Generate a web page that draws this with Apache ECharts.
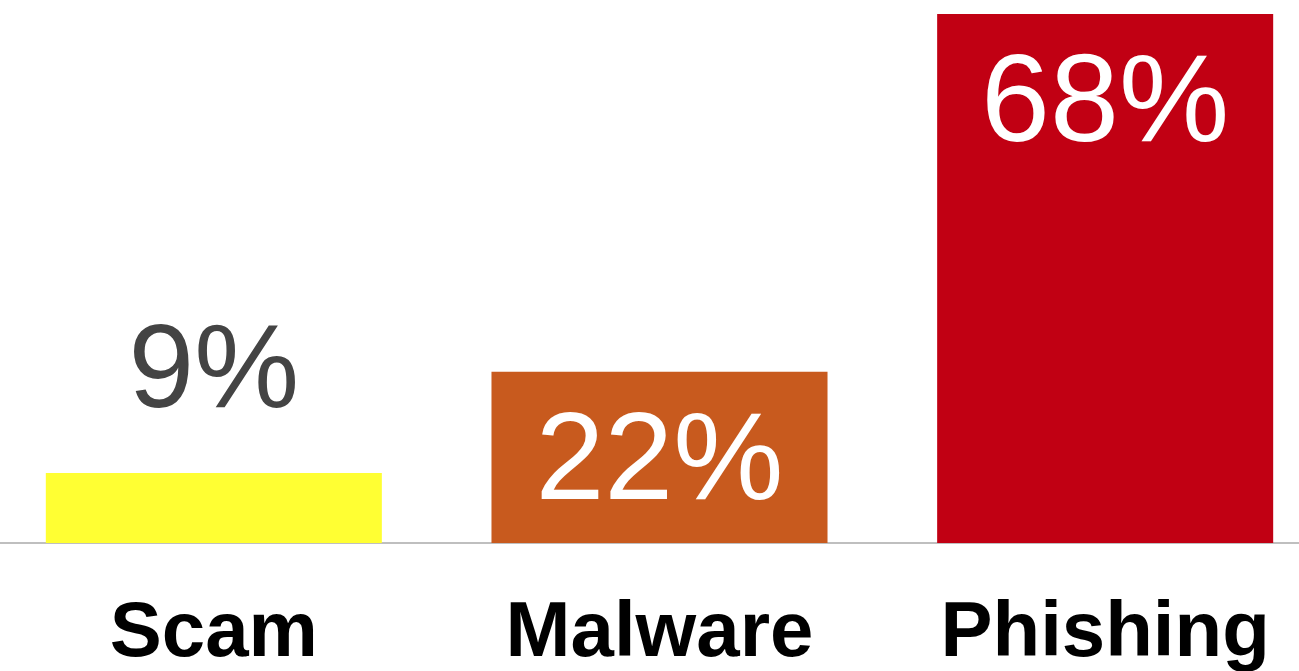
<!DOCTYPE html>
<html>
<head>
<meta charset="utf-8">
<script src="https://cdn.jsdelivr.net/npm/echarts@6/dist/echarts.min.js"></script>
<style>
html,body{margin:0;padding:0;background:#fff;}
#chart{width:1299px;height:671px;}
</style>
</head>
<body>
<div id="chart"></div>
<script>
const categories = ['Scam', 'Malware', 'Phishing'];
const values = [9, 22, 68];
const barColors = ['#FFFF33', '#C85A1E', '#C10013'];
const labelColors = ['#444444', '#ffffff', '#ffffff'];
const labelPositions = ['top', 'insideTop', 'insideTop'];

const chart = echarts.init(document.getElementById('chart'));
chart.setOption({
  animation: false,
  backgroundColor: '#ffffff',
  grid: { left: -9, right: -29, top: 14, bottom: 128, containLabel: false, outerBoundsMode: 'none' },
  xAxis: {
    type: 'category',
    data: categories,
    axisLine: { show: true, lineStyle: { color: '#bfbfbf', width: 2 } },
    axisTick: { show: false },
    axisLabel: {
      fontFamily: 'Liberation Sans',
      fontWeight: 'bold',
      fontSize: 78,
      color: '#000000',
      margin: 52
    }
  },
  yAxis: {
    type: 'value',
    min: 0,
    max: 68,
    show: false,
    splitLine: { show: false }
  },
  series: [{
    type: 'bar',
    barWidth: '75.4%',
    data: values.map((v, i) => ({
      value: v,
      itemStyle: { color: barColors[i] },
      label: {
        show: true,
        position: labelPositions[i],
        distance: i === 0 ? 40 : 31,
        color: labelColors[i],
        fontFamily: 'Liberation Sans',
        fontSize: i === 0 ? 118 : 124,
        formatter: '{c}%'
      }
    }))
  }]
});
</script>
</body>
</html>
